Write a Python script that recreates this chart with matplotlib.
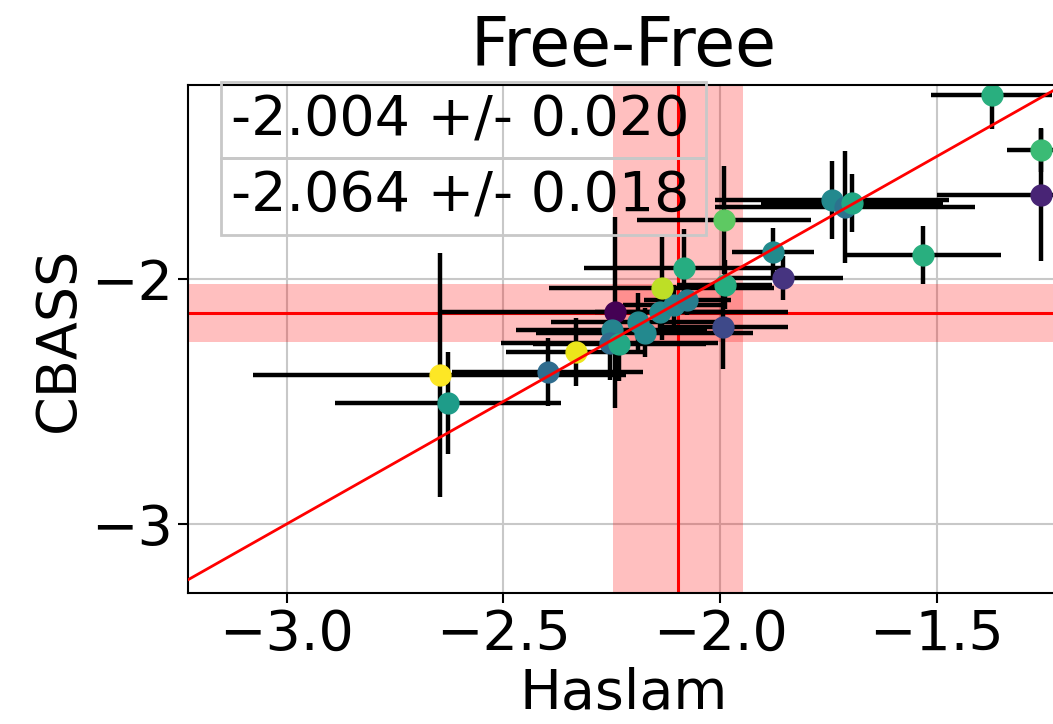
import numpy as np
import matplotlib
matplotlib.use('Agg')
import matplotlib.pyplot as plt

# Haslam vs CBASS spectral indices
haslam = [-2.647, -2.628, -2.398, -2.333, -2.243, -2.250, -2.255, -2.232,
          -2.190, -2.174, -2.139, -2.105, -2.075, -1.991, -2.084, -2.135,
          -1.989, -1.994, -1.878, -1.855, -1.742, -1.712, -1.696, -1.532,
          -1.258, -1.258, -1.373]
cbass = [-2.392, -2.506, -2.380, -2.298, -2.135, -2.208, -2.261, -2.265,
         -2.176, -2.220, -2.135, -2.106, -2.086, -1.759, -1.955, -2.037,
         -2.024, -2.196, -1.890, -1.996, -1.678, -1.706, -1.690, -1.902,
         -1.657, -1.473, -1.249]
haslam_err = [0.43, 0.26, 0.22, 0.16, 0.40, 0.22, 0.25, 0.20,
              0.20, 0.25, 0.15, 0.12, 0.10, 0.20, 0.23, 0.26,
              0.11, 0.15, 0.095, 0.14, 0.27, 0.30, 0.21, 0.18,
              0.24, 0.08, 0.14]
cbass_err = [0.50, 0.21, 0.14, 0.14, 0.39, 0.10, 0.15, 0.15,
             0.12, 0.10, 0.08, 0.08, 0.06, 0.22, 0.16, 0.21,
             0.10, 0.17, 0.10, 0.09, 0.16, 0.23, 0.12, 0.12,
             0.27, 0.09, 0.14]
colour_val = [1.0, 0.55, 0.35, 0.97, 0.0, 0.45, 0.35, 0.6,
              0.47, 0.47, 0.47, 0.45, 0.42, 0.75, 0.62, 0.9,
              0.62, 0.22, 0.48, 0.15, 0.47, 0.38, 0.6, 0.63,
              0.1, 0.68, 0.63]

mean_haslam, std_haslam = -2.097, 0.150
mean_cbass, std_cbass = -2.140, 0.118
table_rows = [['-2.004 +/- 0.020'], ['-2.064 +/- 0.018']]

plt.rcParams['font.size'] = 40

fig = plt.figure(figsize=(10.53, 7.24), dpi=100)
ax = fig.add_axes([0.1785, 0.1809, 0.827, 0.7017])

ax.grid(True, color='#c8c8c8', linewidth=1.5)
ax.set_axisbelow(True)

ax.axvspan(mean_haslam - std_haslam, mean_haslam + std_haslam, color='red', alpha=0.25, lw=0, zorder=1)
ax.axhspan(mean_cbass - std_cbass, mean_cbass + std_cbass, color='red', alpha=0.25, lw=0, zorder=1)
ax.axvline(mean_haslam, color='red', lw=2.2, zorder=1.5)
ax.axhline(mean_cbass, color='red', lw=2.2, zorder=1.5)

cmap = plt.get_cmap('viridis')
for i in range(len(haslam)):
    ax.errorbar(haslam[i], cbass[i], xerr=haslam_err[i], yerr=cbass_err[i],
                fmt='o', color=cmap(colour_val[i]), ecolor='k', elinewidth=3.2,
                markersize=15, capsize=0, zorder=2)

xx = np.array([-3.5, -1.0])
ax.plot(xx, xx, color='red', lw=2, zorder=3)

ax.set_xlim(-3.228, -1.218)
ax.set_ylim(-3.282, -1.208)
ax.set_xticks([-3.0, -2.5, -2.0, -1.5])
ax.set_yticks([-3, -2])
ax.tick_params(length=7, width=1.5)
for s in ax.spines.values():
    s.set_linewidth(1.5)

ax.set_xlabel('Haslam', labelpad=4)
ax.set_ylabel('CBASS')
ax.set_title('Free-Free', fontsize=48, pad=14)

tab = ax.table(cellText=table_rows, cellLoc='left',
               bbox=[0.038, 0.705, 0.557, 0.301])
tab.auto_set_font_size(False)
tab.set_fontsize(40)
for cell in tab.get_celld().values():
    cell.set_facecolor('none')
    cell.set_edgecolor('#c8c8c8')
    cell.set_linewidth(2)
    cell.PAD = 0.02
tab.set_zorder(4)

plt.savefig('out.png', dpi=100)
